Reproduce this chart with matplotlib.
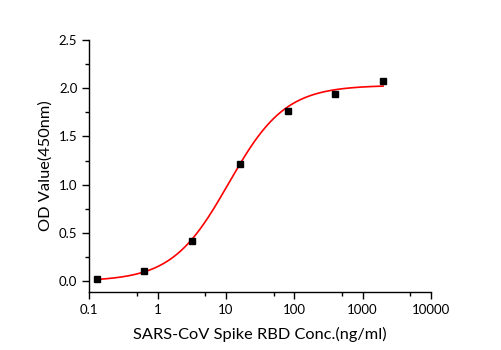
import numpy as np
import matplotlib
matplotlib.use("Agg")
import matplotlib.pyplot as plt
from matplotlib.ticker import FixedLocator, FixedFormatter, MultipleLocator

conc = [0.128, 0.64, 3.2, 16, 80, 400, 2000]
od = [0.02, 0.11, 0.42, 1.21, 1.76, 1.94, 2.07]
# 4PL fit parameters
fit_bottom = 0.0
fit_top = 2.03
fit_ec50 = 11.0
fit_hill = 1.05

xticks = [0.1, 1, 10, 100, 1000, 10000]
xtick_labels = ["0.1", "1", "10", "100", "1000", "10000"]
yticks = [0.0, 0.5, 1.0, 1.5, 2.0, 2.5]

plt.rcParams['font.family'] = ['Lato', 'DejaVu Sans']

fig = plt.figure(figsize=(5.01, 3.5), dpi=100)
ax = fig.add_axes([0.178, 0.166, 0.682, 0.720])

xs = np.logspace(np.log10(conc[0]), np.log10(conc[-1]), 300)
ys = fit_top + (fit_bottom - fit_top) / (1 + (xs / fit_ec50) ** fit_hill)
ax.plot(xs, ys, color='red', lw=1.2, zorder=2)
ax.plot(conc, od, 's', color='black', ms=5, zorder=3)

ax.set_xscale('log')
ax.set_xlim(0.1, 10000)
ax.set_ylim(-0.11, 2.5)
ax.xaxis.set_major_locator(FixedLocator(xticks))
ax.xaxis.set_major_formatter(FixedFormatter(xtick_labels))
ax.xaxis.set_minor_locator(FixedLocator([0.5, 5, 50, 500, 5000]))
ax.yaxis.set_major_locator(FixedLocator(yticks))
ax.set_yticklabels([f"{v:.1f}" for v in yticks])
ax.yaxis.set_minor_locator(MultipleLocator(0.25))

for s in ['top', 'right']:
    ax.spines[s].set_visible(False)
for s in ['left', 'bottom']:
    ax.spines[s].set_linewidth(1.0)
ax.tick_params(which='major', direction='out', length=5, width=1, labelsize=9.5)
ax.tick_params(which='minor', direction='out', length=3, width=1)

ax.set_xlabel("SARS-CoV Spike RBD Conc.(ng/ml)", fontsize=11.8, labelpad=8)
ax.set_ylabel("OD Value(450nm)", fontsize=11.8, labelpad=4)

fig.savefig("out.png", dpi=100)
